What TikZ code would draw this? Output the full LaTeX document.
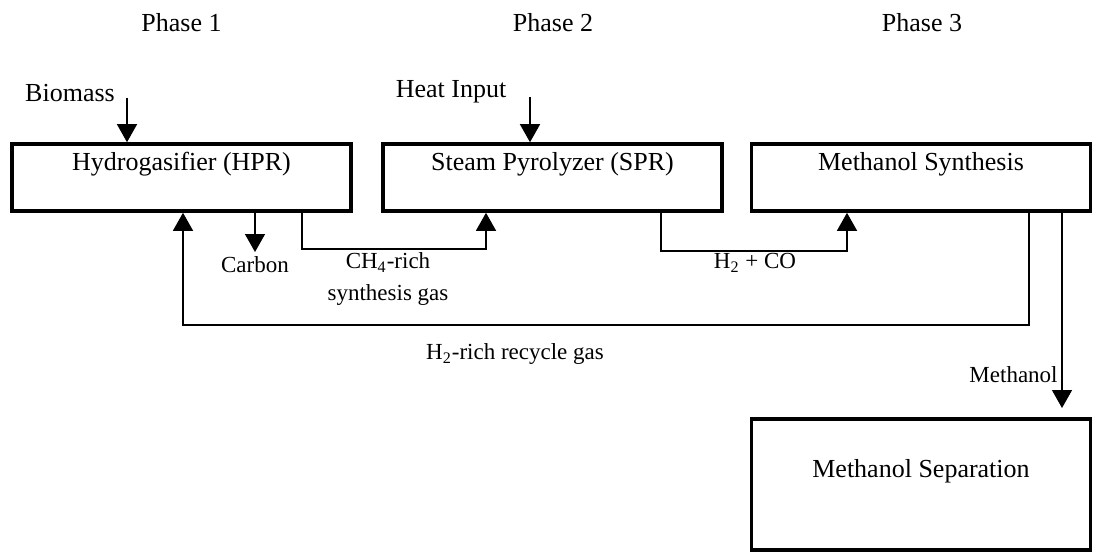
\documentclass[tikz,border=0pt]{standalone}
\usepackage{fontspec}
\setmainfont{Liberation Serif}
\usetikzlibrary{arrows.meta}
\begin{document}
\begin{tikzpicture}[x=0.5pt,y=-0.5pt,
    box/.style={draw,line width=1.8pt,inner sep=0pt,minimum width=169.5pt,
        text height=13pt,text depth=20.5pt,font=\fontsize{13}{15}\selectfont},
    flow/.style={line width=0.7pt,-{Triangle[width=10pt,length=9pt]}},
    txt/.style={inner sep=0pt,font=\fontsize{13}{15}\selectfont},
    lbl/.style={inner sep=0pt,font=\fontsize{11.5}{16}\selectfont}]
    \useasboundingbox (0,0) rectangle (1098,554);
    \node[txt] (ph1) at (181.5,23) {Phase 1};
    \node[txt] (ph2) at (553,23) {Phase 2};
    \node[txt] (ph3) at (922,23) {Phase 3};
    \node[box] (hpr) at (181.5,177.5) {Hydrogasifier (HPR)};
    \node[box] (spr) at (552.5,177.5) {Steam Pyrolyzer (SPR)};
    \node[box] (msyn) at (921,177.5) {Methanol Synthesis};
    \node[box,text height=29pt,text depth=36.5pt] (msep) at (921,484.5) {Methanol Separation};
    \node[txt] (biomass) at (70,93) {Biomass};
    \node[txt] (heat) at (451,92) {Heat Input};
    \node[lbl] (carbon) at (255,265) {Carbon};
    \node[lbl,align=center] (ch4gas) at (388,279) {CH\textsubscript{4}-rich\\synthesis gas};
    \node[lbl] (h2co) at (755,263) {H\textsubscript{2} + CO};
    \node[lbl] (recycle) at (515,354) {H\textsubscript{2}-rich recycle gas};
    \node[lbl,anchor=east] (methanol) at (1058,375) {Methanol};
    \coordinate (bioin) at (127,98);
    \coordinate (heatin) at (530,97);
    \coordinate (carbonout) at (255,252);
    \coordinate (gasout) at (302,249);
    \coordinate (gasin) at (486,249);
    \coordinate (sprout) at (661,251);
    \coordinate (msynin) at (847,251);
    \coordinate (recout) at (1029,325);
    \coordinate (recin) at (183,325);
    \coordinate (meout) at (1062,408);
    \draw[flow] (bioin) -- (bioin |- hpr.north);
    \draw[flow] (heatin) -- (heatin |- spr.north);
    \draw[flow] (carbonout |- hpr.south) -- (carbonout);
    \draw[flow] (gasout |- hpr.south) -- (gasout) -- (gasin) -- (gasin |- spr.south);
    \draw[flow] (sprout |- spr.south) -- (sprout) -- (msynin) -- (msynin |- msyn.south);
    \draw[flow] (recout |- msyn.south) -- (recout) -- (recin) -- (recin |- hpr.south);
    \draw[flow] (meout |- msyn.south) -- (meout);
\end{tikzpicture}
\end{document}
